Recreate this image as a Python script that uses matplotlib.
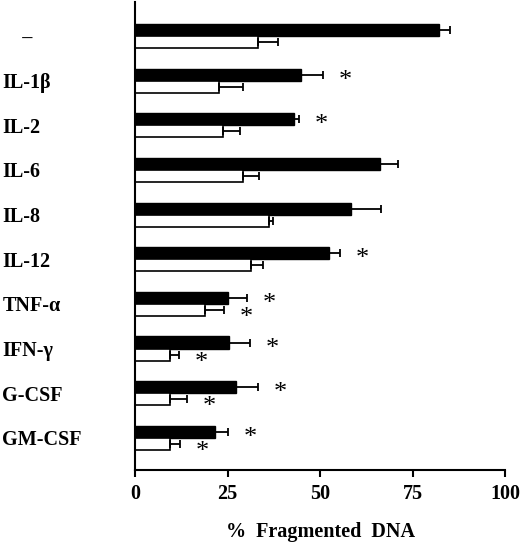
import numpy as np
import matplotlib.pyplot as plt

plt.rcParams['font.family'] = ['Liberation Serif', 'DejaVu Serif']

# Data (% fragmented DNA)
cytokines = ['\u2013', 'IL-1\u03b2', 'IL-2', 'IL-6', 'IL-8', 'IL-12',
             'TNF-\u03b1', 'IFN-\u03b3', 'G-CSF', 'GM-CSF']
black_vals = [82.2, 44.9, 43.0, 66.2, 58.3, 52.4, 25.0, 25.3, 27.4, 21.7]
black_err = [2.9, 6.0, 1.4, 5.0, 8.2, 3.0, 5.4, 5.8, 5.8, 3.5]
white_vals = [33.3, 22.8, 23.9, 29.3, 36.3, 31.3, 18.8, 9.5, 9.5, 9.5]
white_err = [5.4, 6.3, 4.5, 4.1, 0.9, 3.4, 5.3, 2.5, 4.6, 2.7]
black_sig = [False, True, True, False, False, True, True, True, True, True]
white_sig = [False, False, False, False, False, False, True, True, True, True]
xticks = [0, 25, 50, 75, 100]

fig = plt.figure(figsize=(5.2, 5.45), dpi=100)
ax = fig.add_axes([135 / 520, 75 / 545, 370 / 520, 468 / 545])

y = np.arange(len(cytokines))
h = 0.27
ax.barh(y - h / 2, black_vals, height=h, color='black', edgecolor='black', lw=1)
ax.barh(y + h / 2, white_vals, height=h, color='white', edgecolor='black', lw=1.2)
ax.errorbar(black_vals, y - h / 2, xerr=[np.zeros(len(y)), black_err],
            fmt='none', ecolor='black', elinewidth=1.3, capsize=3, capthick=1.3)
ax.errorbar(white_vals, y + h / 2, xerr=[np.zeros(len(y)), white_err],
            fmt='none', ecolor='black', elinewidth=1.3, capsize=3, capthick=1.3)

# significance marks
for i in range(len(y)):
    if black_sig[i]:
        ax.text(black_vals[i] + black_err[i] + 6, y[i] - h / 2 + 0.14, '*',
                ha='center', va='center', fontsize=19)
    if white_sig[i]:
        ax.text(white_vals[i] + white_err[i] + 6, y[i] + h / 2 + 0.18, '*',
                ha='center', va='center', fontsize=19)

ax.set_xlim(0, 100)
ax.set_ylim(len(y) - 1 + 0.72, -0.76)
ax.set_xticks(xticks)
ax.set_xticklabels([str(t) for t in xticks], fontsize=14.5, fontweight='bold')
ax.set_yticks(y)
labels = ['\u2002\u2002' + cytokines[0]] + cytokines[1:]
ax.set_yticklabels(labels, fontsize=14.5, fontweight='bold', ha='left')
ax.tick_params(axis='y', length=0, pad=95.5)
ax.tick_params(axis='x', length=5, width=1.5, pad=5)

for side in ['top', 'right']:
    ax.spines[side].set_visible(False)
for side in ['left', 'bottom']:
    ax.spines[side].set_linewidth(1.5)

ax.set_xlabel('%  Fragmented  DNA', fontsize=14.5, fontweight='bold', labelpad=13)

fig.savefig('out.png', dpi=100)
